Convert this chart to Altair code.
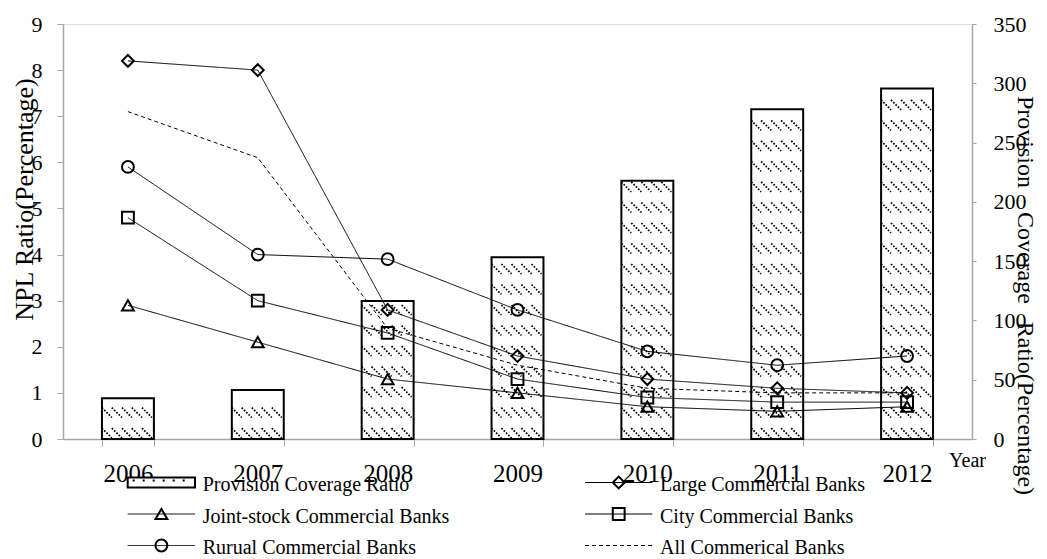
import altair as alt
import pandas as pd

# ---------------- data ----------------
years = ["2006", "2007", "2008", "2009", "2010", "2011", "2012"]
provision_coverage = [34.3, 41.4, 116.4, 153.2, 217.7, 278.1, 295.5]
large_banks = [8.2, 8.0, 2.8, 1.8, 1.3, 1.1, 1.0]
joint_stock_banks = [2.9, 2.1, 1.3, 1.0, 0.7, 0.6, 0.7]
city_banks = [4.8, 3.0, 2.3, 1.3, 0.9, 0.8, 0.8]
rural_banks = [5.9, 4.0, 3.9, 2.8, 1.9, 1.6, 1.8]
all_banks = [7.1, 6.1, 2.4, 1.6, 1.1, 1.0, 1.0]

series_names = ["Large Commercial Banks", "Joint-stock Commercial Banks",
                "City Commercial Banks", "Rurual Commercial Banks",
                "All Commerical Banks"]
series_values = [large_banks, joint_stock_banks, city_banks, rural_banks, all_banks]
legend_labels = ["Provision Coverage Ratio"] + series_names

bars_df = pd.DataFrame({"year": years, "pcr": provision_coverage})
lines_df = pd.DataFrame(
    [{"year": y, "series": s, "npl": v}
     for s, vals in zip(series_names, series_values)
     for y, v in zip(years, vals)]
)
legend_df = pd.DataFrame({"label": legend_labels, "idx": list(range(len(legend_labels)))})

FONT = "Liberation Serif"
AXIS_GRAY = "#a6a6a6"
marker_series = series_names[:4]
marker_shapes = ["diamond", "triangle-up", "square", "circle"]
dash_range = [[1, 0], [1, 0], [1, 0], [1, 0], [4, 3]]

# hatch row symbol (diagonal dotted strokes across the bar width)
HATCH = ("M-1,-0.19L-0.62,0.19M-0.62,-0.19L-0.23,0.19M-0.23,-0.19L0.15,0.19"
         "M0.15,-0.19L0.54,0.19M0.54,-0.19L0.92,0.19")

x_scale = alt.Scale(paddingInner=0.6, paddingOuter=0.3)
x_axis = alt.Axis(
    title="Year", labelAngle=0, labelFont=FONT, labelFontSize=25, labelColor="black",
    labelBaseline="alphabetic", labelPadding=35.7, tickBand="extent", tickSize=7,
    tickColor=AXIS_GRAY, domainColor=AXIS_GRAY, domainWidth=1.5, ticks=True,
    titleFont=FONT, titleFontSize=20, titleFontWeight="normal", titleColor="black",
    titleX=904, titleY=27.7, titleBaseline="alphabetic", titleAlign="center",
)
X = alt.X("year:N", scale=x_scale, axis=x_axis, bandPosition=0.5)

pcr_scale = alt.Scale(domain=[0, 350], nice=False)
npl_scale = alt.Scale(domain=[0, 9], nice=False)

right_axis = alt.Axis(
    orient="right", values=[0, 50, 100, 150, 200, 250, 300, 350], grid=False,
    labelFont=FONT, labelFontSize=22, labelColor="black", labelPadding=17,
    tickSize=4, tickColor=AXIS_GRAY, domainColor=AXIS_GRAY, domainWidth=1.5,
    title="Provision\u00a0\u00a0\u00a0 Coverage\u00a0\u00a0 Ratio(Percentage)",
    titleFont=FONT, titleFontSize=24, titleFontWeight="normal", titleColor="black",
    titleAngle=90, titleX=45, titleY=271, titleAlign="center", titleBaseline="alphabetic",
)
left_axis = alt.Axis(
    orient="left", values=list(range(10)), grid=False,
    labelFont=FONT, labelFontSize=22, labelColor="black", labelPadding=15,
    tickSize=6, tickColor=AXIS_GRAY, domainColor=AXIS_GRAY, domainWidth=1.5,
    title="NPL Ratio(Percentage)",
    titleFont=FONT, titleFontSize=26, titleFontWeight="normal", titleColor="black",
    titleAngle=270, titleX=-31, titleY=175, titleAlign="center", titleBaseline="alphabetic",
)

bars = alt.Chart(bars_df).mark_bar(fill="white", stroke="black", strokeWidth=2).encode(
    x=alt.X("year:N", scale=x_scale, axis=x_axis),
    y=alt.Y("pcr:Q", scale=pcr_scale, axis=right_axis),
)

hatch = alt.Chart(bars_df).transform_calculate(
    rows="sequence(5, datum.pcr - 4, 17.3)"
).transform_flatten(["rows"]).mark_point(
    shape=HATCH, size=2704, filled=False, stroke="black", strokeWidth=1.7,
    strokeDash=[1.7, 1.5], opacity=1,
).encode(
    x=X,
    y=alt.Y("rows:Q", scale=pcr_scale, axis=right_axis),
)

lines = alt.Chart(lines_df).mark_line(color="black", strokeWidth=1).encode(
    x=X,
    y=alt.Y("npl:Q", scale=npl_scale, axis=left_axis),
    detail="series:N",
    strokeDash=alt.StrokeDash("series:N", scale=alt.Scale(domain=series_names, range=dash_range), legend=None),
)

points = alt.Chart(lines_df).transform_filter(
    "datum.series != 'All Commerical Banks'"
).mark_point(filled=False, color="black", strokeWidth=2, size=140, opacity=1).encode(
    x=X,
    y=alt.Y("npl:Q", scale=npl_scale, axis=left_axis),
    shape=alt.Shape("series:N", scale=alt.Scale(domain=marker_series, range=marker_shapes), legend=None),
)

# ---------------- manual legend ----------------
leg = alt.Chart(legend_df).transform_calculate(
    col="datum.idx % 2",
    row="floor(datum.idx / 2)",
).transform_calculate(
    lx0="64.7 + datum.col * 457.3",
    ly="458.5 + datum.row * 31.5",
).transform_calculate(
    lx1="datum.lx0 + 67.3",
    lxm="datum.lx0 + 33.7",
    ltx="datum.lx0 + 75",
    lty="datum.ly + 8.5",
    ly0="datum.ly - 5",
    ly1="datum.ly + 5",
    ldx0="datum.lx0 + 5",
    ldx1="datum.lx0 + 64",
    ldy="datum.ly - 2",
)

LX = lambda f: alt.X(f"{f}:Q", scale=None, axis=None)
LY = lambda f: alt.Y(f"{f}:Q", scale=None, axis=None)

leg_text = leg.mark_text(align="left", baseline="alphabetic", font=FONT, fontSize=20, color="black").encode(
    x=LX("ltx"), y=LY("lty"), text="label:N")

leg_rect = leg.transform_filter("datum.idx == 0").mark_rect(fill="white", stroke="black", strokeWidth=2).encode(
    x=LX("lx0"), x2="lx1:Q", y=LY("ly0"), y2="ly1:Q")

leg_dots = leg.transform_filter("datum.idx == 0").mark_rule(color="black", strokeWidth=2, strokeDash=[2, 8]).encode(
    x=LX("ldx0"), x2="ldx1:Q", y=LY("ldy"))

leg_lines = leg.transform_filter("datum.idx > 0").mark_rule(color="black", strokeWidth=1).encode(
    x=LX("lx0"), x2="lx1:Q", y=LY("ly"),
    strokeDash=alt.StrokeDash("label:N", scale=alt.Scale(domain=series_names, range=dash_range), legend=None),
)

leg_marks = leg.transform_filter("datum.idx > 0 && datum.idx < 5").mark_point(
    filled=False, color="black", strokeWidth=2, size=140, opacity=1).encode(
    x=LX("lxm"), y=LY("ly"),
    shape=alt.Shape("label:N", scale=alt.Scale(domain=marker_series, range=marker_shapes), legend=None),
)

right_group = alt.layer(bars, hatch)
left_group = alt.layer(lines, points)
legend_group = alt.layer(leg_rect, leg_dots, leg_lines, leg_marks, leg_text)

chart = alt.layer(right_group, left_group, legend_group).resolve_scale(
    y="independent"
).properties(
    width=909, height=415,
    autosize=alt.AutoSizeParams(type="none"),
    padding={"left": 55, "top": 16, "right": 67, "bottom": 118},
).configure_view(stroke=None, strokeWidth=0).configure(font=FONT, background="white")

chart.save("out.html", embed_options={"renderer": "svg", "actions": False})
